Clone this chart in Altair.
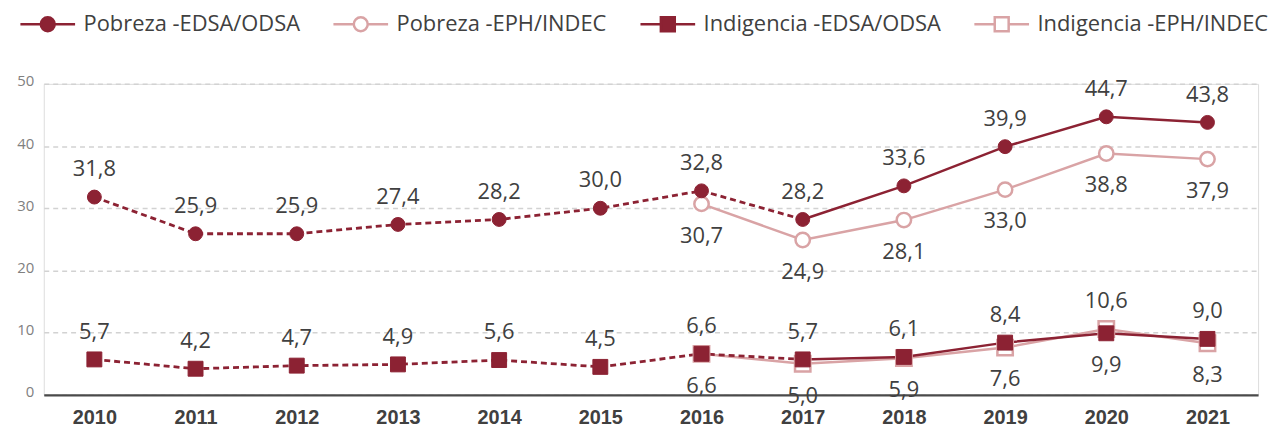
import altair as alt
import pandas as pd

years = ["2010", "2011", "2012", "2013", "2014", "2015",
         "2016", "2017", "2018", "2019", "2020", "2021"]
eph_years = ["2016", "2017", "2018", "2019", "2020", "2021"]

series_names = ["Pobreza -EDSA/ODSA", "Pobreza -EPH/INDEC",
                "Indigencia -EDSA/ODSA", "Indigencia -EPH/INDEC"]

pobreza_edsa = [31.8, 25.9, 25.9, 27.4, 28.2, 30.0, 32.8, 28.2, 33.6, 39.9, 44.7, 43.8]
pobreza_eph = [30.7, 24.9, 28.1, 33.0, 38.8, 37.9]
indig_edsa = [5.7, 4.2, 4.7, 4.9, 5.6, 4.5, 6.6, 5.7, 6.1, 8.4, 9.9, 9.0]
indig_eph = [6.6, 5.0, 5.9, 7.6, 10.6, 8.3]

y_ticks = [0, 10, 20, 30, 40, 50]

DARK = "#8C2233"
PINK = "#D9A3A5"
TEXT = "#404040"
FONT = "Open Sans"

# ---------- build tables ----------
edsa = {("Pobreza", y): v for y, v in zip(years, pobreza_edsa)}
edsa.update({("Indigencia", y): v for y, v in zip(years, indig_edsa)})
eph = {("Pobreza", y): v for y, v in zip(eph_years, pobreza_eph)}
eph.update({("Indigencia", y): v for y, v in zip(eph_years, indig_eph)})

rows = []
for (grp, yr), v in edsa.items():
    other = eph.get((grp, yr))
    pos = "below" if (other is not None and other > v) else "above"
    rows.append(dict(year=yr, value=v, group=grp, source="EDSA",
                     series=f"{grp} -EDSA/ODSA", pos=pos,
                     label=f"{v:.1f}".replace(".", ",")))
for (grp, yr), v in eph.items():
    other = edsa.get((grp, yr))
    pos = "above" if (other is not None and v > other) else "below"
    rows.append(dict(year=yr, value=v, group=grp, source="EPH",
                     series=f"{grp} -EPH/INDEC", pos=pos,
                     label=f"{v:.1f}".replace(".", ",")))
df = pd.DataFrame(rows)

# line segments for EDSA: dotted up to 2017, solid from 2017
seg_rows = []
for r in rows:
    if r["source"] != "EDSA":
        continue
    if int(r["year"]) <= 2017:
        seg_rows.append(dict(r, seg="dashed"))
    if int(r["year"]) >= 2017:
        seg_rows.append(dict(r, seg="solid"))
seg_df = pd.DataFrame(seg_rows)

# ---------- encodings ----------
X = alt.X("year:O", scale=alt.Scale(domain=years, type="point", padding=0.5),
          axis=alt.Axis(title=None, labelAngle=0, ticks=False, tickSize=0,
                        grid=False, domainColor="#4a4a4a", domainWidth=2.5,
                        labelFont="Liberation Sans", labelFontWeight="bold",
                        labelFontSize=20, labelColor=TEXT, labelPadding=13))
Y = alt.Y("value:Q", scale=alt.Scale(domain=[0, 50], nice=False, zero=True),
          axis=alt.Axis(title=None, values=y_ticks, grid=True, gridDash=[5, 4],
                        gridColor="#d2d2d2", gridWidth=1.5, domain=False,
                        ticks=False, tickSize=0, labelPadding=10, labelOffset=-3,
                        labelFont=FONT, labelFontSize=15, labelColor="#808080"))

base = alt.Chart(df)
base_seg = alt.Chart(seg_df)

eph_lines = base.transform_filter(alt.datum.source == "EPH").mark_line(
    color=PINK, strokeWidth=2.5).encode(x=X, y=Y, detail="group:N")

edsa_dashed = base_seg.transform_filter(alt.datum.seg == "dashed").mark_line(
    color=DARK, strokeWidth=2.8, strokeDash=[6, 4]).encode(x=X, y=Y, detail="group:N")
edsa_solid = base_seg.transform_filter(alt.datum.seg == "solid").mark_line(
    color=DARK, strokeWidth=2.5).encode(x=X, y=Y, detail="group:N")

eph_circles = base.transform_filter(
    (alt.datum.source == "EPH") & (alt.datum.group == "Pobreza")).mark_point(
    shape="circle", filled=True, fill="white", stroke=PINK, strokeWidth=2.5,
    size=210, opacity=1).encode(x=X, y=Y)
eph_squares = base.transform_filter(
    (alt.datum.source == "EPH") & (alt.datum.group == "Indigencia")).mark_point(
    shape="square", filled=True, fill="white", stroke=PINK, strokeWidth=2.5,
    size=240, opacity=1).encode(x=X, y=Y)
edsa_circles = base.transform_filter(
    (alt.datum.source == "EDSA") & (alt.datum.group == "Pobreza")).mark_point(
    shape="circle", filled=True, fill=DARK, stroke=DARK, strokeWidth=1,
    size=196, opacity=1).encode(x=X, y=Y)
edsa_squares = base.transform_filter(
    (alt.datum.source == "EDSA") & (alt.datum.group == "Indigencia")).mark_point(
    shape="square", filled=True, fill=DARK, stroke=DARK, strokeWidth=1,
    size=225, opacity=1).encode(x=X, y=Y)

labels_above = base.transform_filter(alt.datum.pos == "above").mark_text(
    font=FONT, fontSize=22, color=TEXT, baseline="alphabetic", dy=-21).encode(
    x=X, y=Y, text="label:N")
labels_below = base.transform_filter(alt.datum.pos == "below").mark_text(
    font=FONT, fontSize=22, color=TEXT, baseline="alphabetic", dy=39).encode(
    x=X, y=Y, text="label:N")

# ---------- legend (line + marker symbols) ----------
circ_line = "M-3.93,0H-1M1,0H3.93M1,0A1,1,0,1,1,-1,0A1,1,0,1,1,1,0Z"
sq_line = "M-3.93,0H-1M1,0H3.93M-1,-1H1V1H-1Z"

leg = alt.Legend(title=None, orient="none", legendX=-26, legendY=-71,
                 direction="horizontal", columns=4, padding=0,
                 symbolSize=196, symbolStrokeWidth=2.5, symbolOffset=19,
                 symbolOpacity=1, labelOffset=25, labelFont=FONT,
                 labelFontSize=22, labelColor=TEXT, labelLimit=500,
                 columnPadding=28)

legend_layer = base.transform_filter("false").mark_point(
    filled=True, strokeWidth=2.5, opacity=1).encode(
    x=X, y=Y,
    shape=alt.Shape("series:N", scale=alt.Scale(domain=series_names,
                    range=[circ_line, circ_line, sq_line, sq_line]), legend=leg),
    fill=alt.Fill("series:N", scale=alt.Scale(domain=series_names,
                  range=[DARK, "white", DARK, "white"]), legend=leg),
    stroke=alt.Stroke("series:N", scale=alt.Scale(domain=series_names,
                      range=[DARK, PINK, DARK, PINK]), legend=leg),
)

chart = alt.layer(
    eph_lines, edsa_dashed, edsa_solid,
    eph_circles, eph_squares, edsa_circles, edsa_squares,
    labels_above, labels_below, legend_layer,
).properties(
    width=1222, height=313,
    autosize=alt.AutoSizeParams(type="none"),
    padding={"left": 36, "top": 75, "right": 12, "bottom": 31},
).configure_view(stroke=None).configure(background="white")

chart.save("out.html", embed_options={"renderer": "svg", "actions": False})
